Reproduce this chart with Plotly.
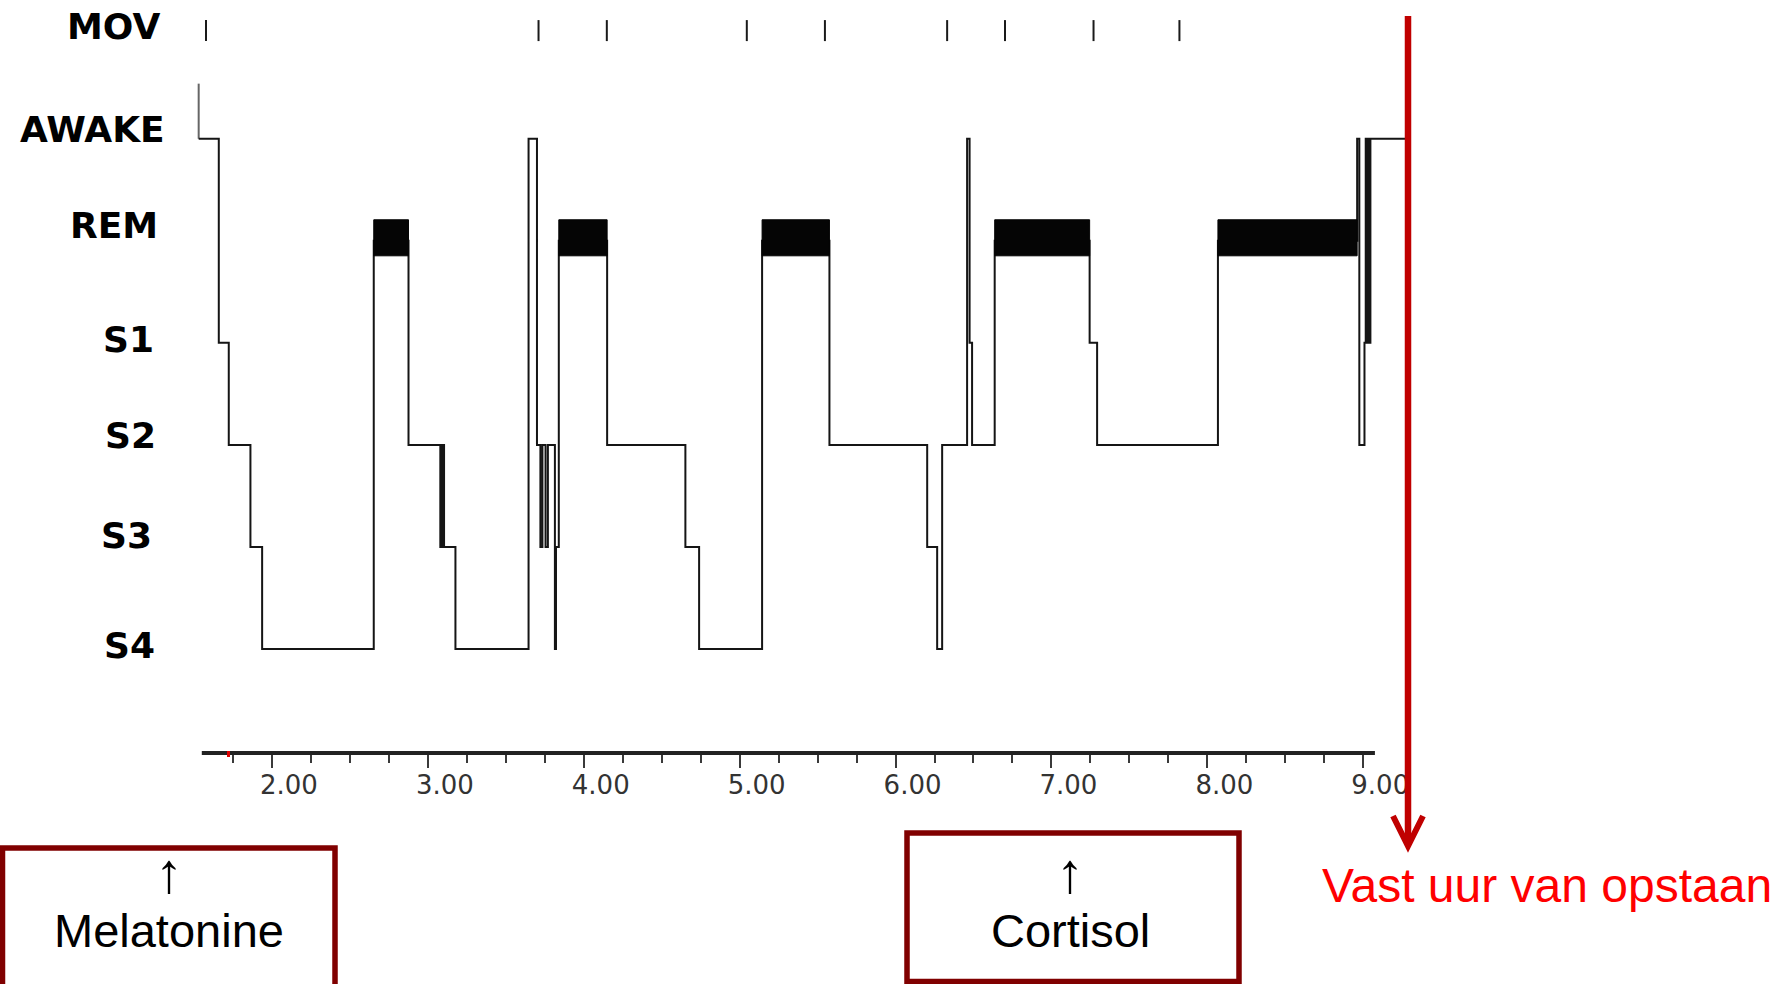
import plotly.graph_objects as go

# ---------------- data ----------------
stage_levels = {"S4": 0, "S3": 1, "S2": 2, "S1": 3, "REM": 4, "AWAKE": 5}
level_labels = ["MOV", "AWAKE", "REM", "S1", "S2", "S3", "S4"]

# hypnogram: each stage holds from its time until the next time (hours)
epoch_times = [1.530, 1.659, 1.723, 1.862, 1.937, 2.653, 2.876, 3.080, 3.092, 3.104,
               3.177, 3.646, 3.700, 3.722, 3.735, 3.755, 3.770, 3.815, 3.822, 3.840,
               4.150, 4.652, 4.740, 5.144, 5.576, 6.203, 6.267, 6.299, 6.459, 6.475,
               6.491, 6.636, 7.245, 7.293, 8.068, 8.961, 8.975, 9.008, 9.016, 9.024,
               9.032, 9.040, 9.046]
epoch_stages = ["AWAKE", "S1", "S2", "S3", "S4", "REM", "S2", "S3", "S2", "S3",
                "S4", "AWAKE", "S2", "S3", "S2", "S3", "S2", "S4", "S3", "REM",
                "S2", "S3", "S4", "REM", "S2", "S3", "S4", "S2", "AWAKE", "S1",
                "S2", "REM", "S1", "S2", "REM", "AWAKE", "S2", "S1", "AWAKE", "S1",
                "AWAKE", "S1", "AWAKE"]
record_end = 9.29
lights_off_time = 1.530

mov_times = [1.577, 3.710, 4.148, 5.046, 5.547, 6.331, 6.702, 7.270, 7.821]

hour_ticks = [2, 3, 4, 5, 6, 7, 8, 9]
hour_labels = ["2.00", "3.00", "4.00", "5.00", "6.00", "7.00", "8.00", "9.00"]
quarter_ticks = [1.75, 2.25, 2.5, 2.75, 3.25, 3.5, 3.75, 4.25, 4.5, 4.75,
                 5.25, 5.5, 5.75, 6.25, 6.5, 6.75, 7.25, 7.5, 7.75, 8.25, 8.5, 8.75]

hormone_boxes = ["Melatonine", "Cortisol"]
wake_text = "Vast uur van opstaan"

# ---------------- layout geometry (style) ----------------
W, H = 1787, 984
ML, MR, MT, MB = 194, 377, 1, 231
PW, PH = W - ML - MR, H - MT - MB
XR = [1.5, 9.3]
YR = [-1.0196, 6.35]
REM_LO, REM_HI = 3.853, 4.206
MOV_LEVEL = 6.06


def px(x):
    return (x - ML) / PW


def py(y):
    return (H - MB - y) / PH


def hx(h):
    return (h - XR[0]) / (XR[1] - XR[0])


fig = go.Figure()

# lights-off marker
fig.add_trace(go.Scatter(
    x=[lights_off_time, lights_off_time],
    y=[stage_levels["AWAKE"], stage_levels["AWAKE"] + 0.54],
    mode="lines", line=dict(color="#666666", width=2), hoverinfo="skip", showlegend=False))

# hypnogram step line
hx_vals = epoch_times + [record_end]
hy_vals = [stage_levels[s] for s in epoch_stages] + [stage_levels[epoch_stages[-1]]]
fig.add_trace(go.Scatter(
    x=hx_vals, y=hy_vals, mode="lines", line=dict(color="#151515", width=2, shape="hv"),
    hoverinfo="skip", showlegend=False))

# REM blocks
rx, ry = [], []
for i, s in enumerate(epoch_stages):
    if s == "REM":
        x0, x1 = hx_vals[i], hx_vals[i + 1]
        rx += [x0, x1, x1, x0, x0, None]
        ry += [REM_LO, REM_LO, REM_HI, REM_HI, REM_LO, None]
fig.add_trace(go.Scatter(
    x=rx, y=ry, mode="lines", fill="toself", fillcolor="#050505",
    line=dict(color="#050505", width=1), hoverinfo="skip", showlegend=False))

# movement marks
fig.add_trace(go.Scatter(
    x=mov_times, y=[MOV_LEVEL] * len(mov_times), mode="markers",
    marker=dict(symbol="line-ns", size=15, line=dict(color="#1a1a1a", width=2)),
    hoverinfo="skip", showlegend=False))

shapes = []
# time axis line
shapes.append(dict(type="line", xref="paper", yref="paper", x0=hx(1.55), x1=hx(9.075),
                   y0=0, y1=0, line=dict(color="#222222", width=4), layer="above"))
# small red mark on the axis
shapes.append(dict(type="rect", xref="paper", yref="paper", x0=px(227), x1=px(230),
                   y0=py(757), y1=py(751), fillcolor="#dd0000", line=dict(width=0), layer="above"))
# red arrow (fixed wake-up time)
shapes.append(dict(type="line", xref="paper", yref="paper", x0=px(1408), x1=px(1408),
                   y0=py(16), y1=py(843), line=dict(color="#C00000", width=6.5), layer="above"))
shapes.append(dict(type="path", xref="paper", yref="paper",
                   path=f"M {px(1393)} {py(816)} L {px(1408)} {py(846)} L {px(1423)} {py(816)}",
                   line=dict(color="#C00000", width=6), layer="above"))
# hormone boxes
shapes.append(dict(type="rect", xref="paper", yref="paper", x0=px(2.5), x1=px(335),
                   y0=py(848), y1=py(995), line=dict(color="#800000", width=5.5), layer="above"))
shapes.append(dict(type="rect", xref="paper", yref="paper", x0=px(907), x1=px(1239),
                   y0=py(833), y1=py(981.5), line=dict(color="#800000", width=5.5), layer="above"))

annotations = []
label_py = [26.7, 129.5, 226, 339, 435.5, 535, 645]
label_px = [162, 167, 160, 156, 158, 154, 157]
for lab, xx, yy in zip(level_labels, label_px, label_py):
    annotations.append(dict(text=lab, xref="paper", yref="paper", x=px(xx), y=py(yy),
                            xanchor="right", yanchor="middle", showarrow=False,
                            font=dict(family="DejaVu Sans", size=36, color="#000000", weight="bold")))

box_cx = [169, 1070]
for name, cx in zip(hormone_boxes, box_cx):
    annotations.append(dict(text="\u2191", xref="paper", yref="paper", x=px(cx), y=py(872),
                            xanchor="center", yanchor="middle", showarrow=False,
                            font=dict(family="Liberation Sans", size=56, color="#000000")))
    annotations.append(dict(text=name, xref="paper", yref="paper", x=px(cx), y=py(930),
                            xanchor="center", yanchor="middle", showarrow=False,
                            font=dict(family="Liberation Sans", size=47, color="#000000")))

annotations.append(dict(text=wake_text, xref="paper", yref="paper", x=px(1547), y=py(885),
                        xanchor="center", yanchor="middle", showarrow=False,
                        font=dict(family="Liberation Sans", size=48, color="#FF0000")))

fig.update_layout(
    width=W, height=H, margin=dict(l=ML, r=MR, t=MT, b=MB, pad=0),
    paper_bgcolor="#ffffff", plot_bgcolor="#ffffff", showlegend=False,
    shapes=shapes, annotations=annotations,
    xaxis=dict(range=XR, showgrid=False, zeroline=False, showline=False,
               tickmode="array", tickvals=hour_ticks, ticktext=hour_labels,
               ticks="outside", ticklen=14, tickwidth=2, tickcolor="#3a3a3a",
               tickfont=dict(family="DejaVu Sans", size=26, color="#333333"),
               ticklabelshift=17, ticklabelstandoff=-5,
               minor=dict(tickmode="array", tickvals=quarter_ticks, ticks="outside",
                          ticklen=9, tickwidth=2, tickcolor="#3a3a3a"),
               fixedrange=True),
    yaxis=dict(range=YR, visible=False, showgrid=False, zeroline=False, fixedrange=True),
)

fig.write_html("out.html", config={"displayModeBar": False},
               post_script="document.body.style.margin='0px';document.body.style.overflow='hidden';")
